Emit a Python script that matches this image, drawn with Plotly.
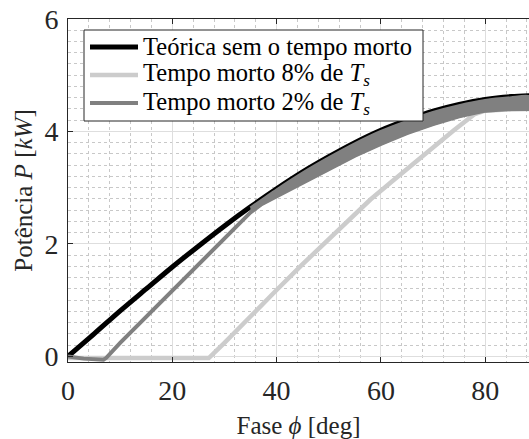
import plotly.graph_objects as go

# Phase angle (deg) and transferred power (kW)
phi_theory = [0, 5, 10, 15, 20, 25, 30, 35, 40, 45, 50, 55, 60, 65, 70, 75, 80, 85, 90]
p_theory = [0.00, 0.40, 0.81, 1.20, 1.59, 1.96, 2.32, 2.66, 2.98, 3.28, 3.55, 3.80,
            4.02, 4.20, 4.36, 4.48, 4.57, 4.62, 4.64]

phi_dt8 = [0, 27.0, 30, 35, 40, 45, 50, 55, 58, 62, 66, 70, 74, 78, 80, 84, 88.4]
p_dt8 = [-0.03, -0.03, 0.24, 0.72, 1.18, 1.64, 2.08, 2.52, 2.79, 3.10, 3.41, 3.72,
         4.02, 4.31, 4.37, 4.39, 4.40]

# 2% dead time: lower envelope of the simulated power
phi_dt2 = [0, 3, 6.8, 7.3, 10, 15, 20, 25, 30, 33, 35, 37, 40, 43, 46, 50, 55, 60,
           65, 70, 75, 80, 85, 88.4]
p_dt2 = [0.00, -0.04, -0.06, -0.03, 0.24, 0.70, 1.16, 1.62, 2.08, 2.36, 2.56, 2.70,
         2.85, 3.00, 3.14, 3.33, 3.57, 3.78, 3.97, 4.13, 4.27, 4.37, 4.40, 4.40]

# 2% dead time: upper envelope of the ripple band
phi_dt2_top = [35, 40, 45, 50, 55, 60, 65, 70, 75, 80, 85, 88.4]
p_dt2_top = [2.64, 2.96, 3.26, 3.53, 3.78, 4.00, 4.18, 4.34, 4.46, 4.55, 4.60, 4.62]

series_names = ["Teórica sem o tempo morto",
                "Tempo morto 8% de <i>T<sub>s</sub></i>",
                "Tempo morto 2% de <i>T<sub>s</sub></i>"]

band_lo_phi = [x for x in phi_dt2 if x >= 35]
band_lo_p = [p for x, p in zip(phi_dt2, p_dt2) if x >= 35]

FONT = "Liberation Serif, Times New Roman, serif"
AX = "#262626"
BLACK, LIGHT, GRAY = "#000000", "#cccccc", "#808080"
colors = [BLACK, LIGHT, GRAY]
widths = [5, 4.5, 4]

fig = go.Figure()
fig.add_trace(go.Scatter(x=phi_theory, y=p_theory, mode="lines",
                         line=dict(color=BLACK, width=widths[0], shape="spline", smoothing=0.8),
                         name=series_names[0], showlegend=False))
fig.add_trace(go.Scatter(x=phi_dt8, y=p_dt8, mode="lines",
                         line=dict(color=LIGHT, width=widths[1]),
                         name=series_names[1], showlegend=False))
fig.add_trace(go.Scatter(x=phi_dt2_top + band_lo_phi[::-1],
                         y=p_dt2_top + band_lo_p[::-1],
                         mode="lines", fill="toself", fillcolor=GRAY,
                         line=dict(color=GRAY, width=3, shape="spline", smoothing=0.6),
                         showlegend=False, hoverinfo="skip"))
fig.add_trace(go.Scatter(x=phi_dt2, y=p_dt2, mode="lines",
                         line=dict(color=GRAY, width=widths[2]),
                         name=series_names[2], showlegend=False))

# Legend box drawn in paper coordinates (long line samples, tight rows)
W, H, L, T = 461.0, 343.0, 68.0, 19.0
px = lambda v: (v - L) / W
py = lambda v: 1 - (v - T) / H
shapes = [dict(type="rect", xref="paper", yref="paper", layer="above",
               x0=px(84), x1=px(423), y0=py(121), y1=py(30),
               line=dict(color=AX, width=1), fillcolor="white")]
annotations = []
for i, (name, col, w) in enumerate(zip(series_names, colors, widths)):
    row = 47 + 28 * i
    shapes.append(dict(type="line", xref="paper", yref="paper", layer="above",
                       x0=px(90), x1=px(138), y0=py(row), y1=py(row),
                       line=dict(color=col, width=w)))
    annotations.append(dict(xref="paper", yref="paper", x=px(141), y=py(row),
                            xanchor="left", yanchor="middle", showarrow=False,
                            text=name, font=dict(family=FONT, size=24.5, color="black")))

fig.update_layout(
    width=529, height=439,
    margin=dict(l=68, r=0, t=19, b=77),
    paper_bgcolor="white", plot_bgcolor="white",
    font=dict(family=FONT, color=AX),
    showlegend=False,
    shapes=shapes, annotations=annotations,
)
fig.update_xaxes(
    range=[0, 88.4], tickvals=[0, 20, 40, 60, 80],
    showline=True, linecolor=AX, linewidth=1, mirror="ticks",
    ticks="inside", ticklen=5, tickcolor=AX,
    tickfont=dict(family=FONT, size=28, color=AX), ticklabelstandoff=3,
    showgrid=True, gridcolor="#dedede", gridwidth=1,
    minor=dict(dtick=4, showgrid=True, gridcolor="#c8c8c8", griddash="dot", gridwidth=1),
    zeroline=False,
    title=dict(text="Fase <i>ϕ</i> [deg]", font=dict(family=FONT, size=25, color=AX), standoff=11),
)
fig.update_yaxes(
    range=[-0.1, 6], tickvals=[0, 2, 4, 6],
    showline=True, linecolor=AX, linewidth=1, mirror=False,
    ticks="inside", ticklen=5, tickcolor=AX,
    tickfont=dict(family=FONT, size=28, color=AX), ticklabelstandoff=3,
    showgrid=True, gridcolor="#dedede", gridwidth=1,
    minor=dict(dtick=0.2, showgrid=True, gridcolor="#c8c8c8", griddash="dot", gridwidth=1),
    zeroline=False,
    title=dict(text="Potência <i>P</i> [<i>kW</i>]", font=dict(family=FONT, size=25, color=AX), standoff=4),
)

fig.write_html("out.html")
